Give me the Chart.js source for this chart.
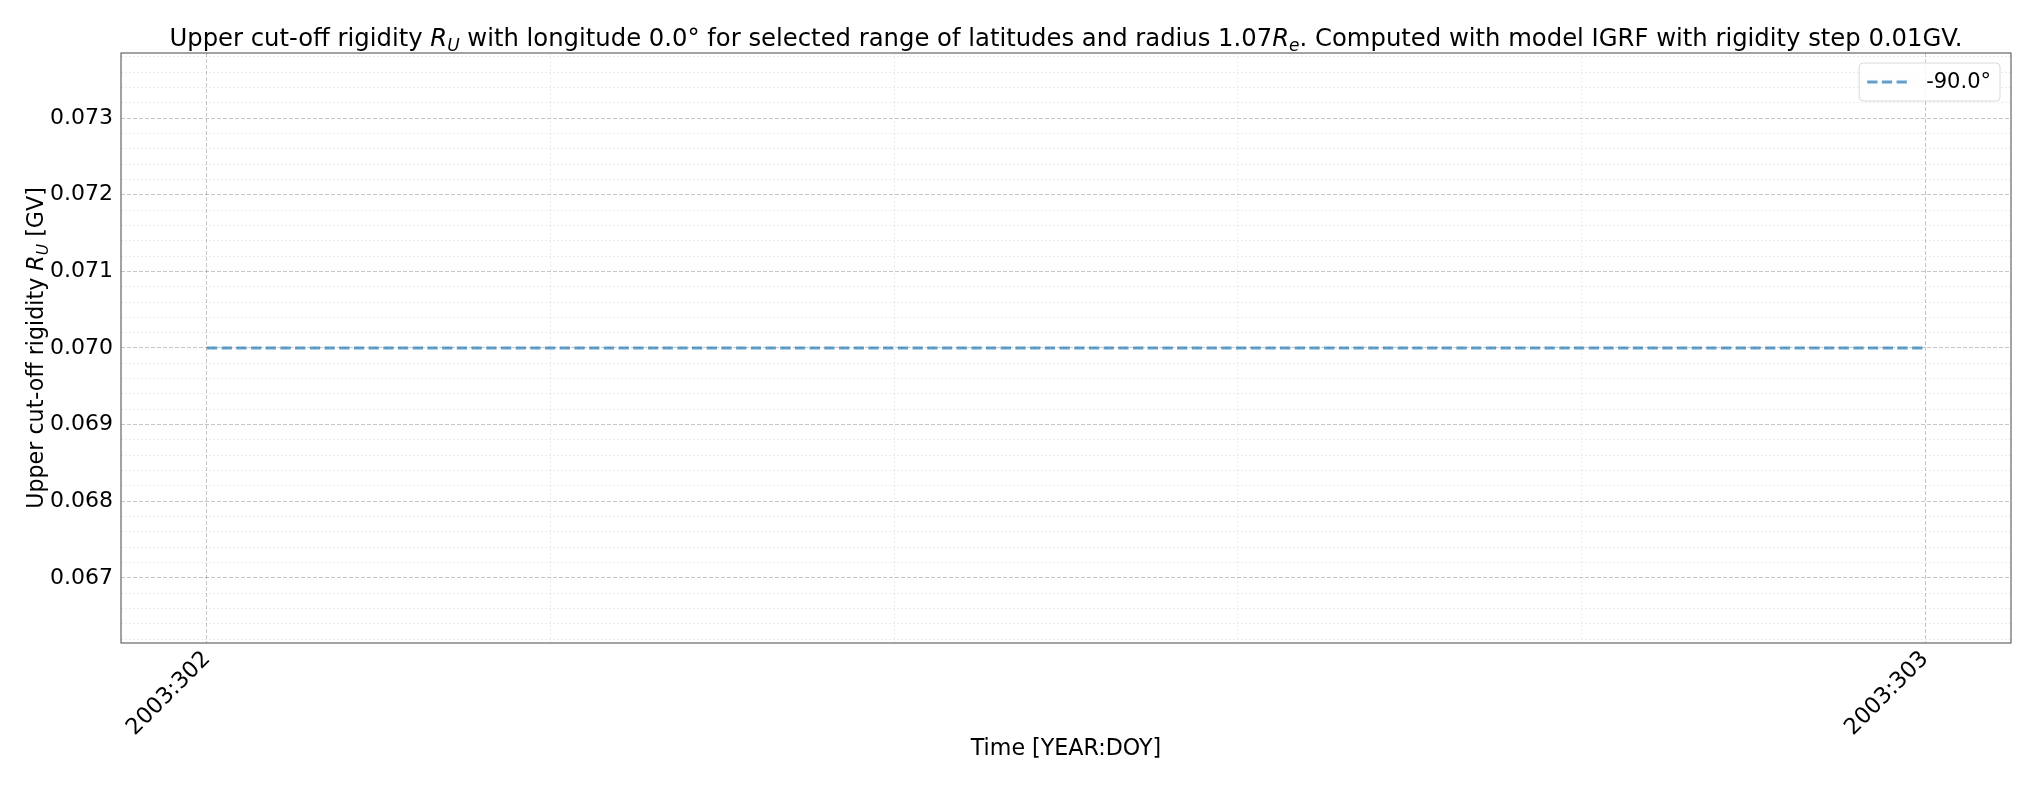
<!DOCTYPE html>
<html>
<head>
<meta charset="utf-8">
<script src="https://cdn.jsdelivr.net/npm/chart.js@4.4.0/dist/chart.umd.min.js"></script>
<style>
  html, body { margin: 0; padding: 0; background: #fff; }
  #wrap { width: 2035px; height: 785px; position: relative; }
</style>
</head>
<body>
<div id="wrap"><canvas id="myChart"></canvas></div>
<script>
// DATA
const year = 2003;
const days = [302, 303];            // day of year
const rigidity = [0.07, 0.07];      // upper cut-off rigidity [GV]
const seriesLabel = '-90.0°';
const xTickDays = [302, 303];
const xTickLabels = ['2003:302', '2003:303'];
const yTickValues = [0.067, 0.068, 0.069, 0.070, 0.071, 0.072, 0.073];
const yTickLabels = ['0.067', '0.068', '0.069', '0.070', '0.071', '0.072', '0.073'];

const FONT = "'DejaVu Sans', sans-serif";
const lineColor = 'rgba(31,119,180,0.7)';

// rich text pieces: [text, style]  style: '' normal, 'i' italic, 's' italic subscript
const titleParts = [
  ['Upper cut-off rigidity ', ''], ['R', 'i'], ['U', 's'],
  [' with longitude 0.0° for selected range of latitudes and radius 1.07', ''], ['R', 'i'], ['e', 's'],
  ['. Computed with model IGRF with rigidity step 0.01GV.', '']
];
const yLabelParts = [['Upper cut-off rigidity ', ''], ['R', 'i'], ['U', 's'], [' [GV]', '']];

function partFont(style, size) {
  if (style === 'i') return 'italic ' + size + 'px ' + FONT;
  if (style === 's') return 'italic ' + (size * 0.7) + 'px ' + FONT;
  return size + 'px ' + FONT;
}
function richWidth(ctx, parts, size) {
  let w = 0;
  parts.forEach(p => { ctx.font = partFont(p[1], size); w += ctx.measureText(p[0]).width; });
  return w;
}
function drawRich(ctx, parts, cx, baseY, size) {
  const w = richWidth(ctx, parts, size);
  let x = cx - w / 2;
  ctx.textAlign = 'left';
  ctx.textBaseline = 'alphabetic';
  ctx.fillStyle = '#000';
  parts.forEach(p => {
    ctx.font = partFont(p[1], size);
    const dy = p[1] === 's' ? size * 0.22 : 0;
    ctx.fillText(p[0], x, baseY + dy);
    x += ctx.measureText(p[0]).width;
  });
}

const isWhole = (v, unit) => Math.abs(v / unit - Math.round(v / unit)) < 1e-6;

const decorations = {
  id: 'decorations',
  afterDraw(chart) {
    const ctx = chart.ctx;
    const a = chart.chartArea;
    ctx.save();
    // frame
    ctx.strokeStyle = '#666';
    ctx.lineWidth = 1.2;
    ctx.strokeRect(a.left, a.top, a.right - a.left, a.bottom - a.top);
    // title
    drawRich(ctx, titleParts, (a.left + a.right) / 2, 46, 24.3);
    // y label
    ctx.save();
    ctx.translate(43, (a.top + a.bottom) / 2);
    ctx.rotate(-Math.PI / 2);
    drawRich(ctx, yLabelParts, 0, 0, 22.2);
    ctx.restore();
    // legend
    const ds = chart.data.datasets[0];
    ctx.font = '21px ' + FONT;
    const tw = ctx.measureText(ds.label).width;
    const bw = 8 + 40 + 19 + tw + 9, bh = 38;
    const bx = a.right - 11 - bw, by = a.top + 10;
    ctx.fillStyle = 'rgba(255,255,255,0.8)';
    ctx.strokeStyle = '#d9d9d9';
    ctx.lineWidth = 1;
    ctx.beginPath();
    ctx.roundRect(bx, by, bw, bh, 4);
    ctx.fill();
    ctx.stroke();
    ctx.strokeStyle = ds.borderColor;
    ctx.lineWidth = ds.borderWidth;
    ctx.setLineDash(ds.borderDash);
    ctx.beginPath();
    ctx.moveTo(bx + 8, by + bh / 2);
    ctx.lineTo(bx + 48, by + bh / 2);
    ctx.stroke();
    ctx.setLineDash([]);
    ctx.fillStyle = '#000';
    ctx.textAlign = 'left';
    ctx.textBaseline = 'middle';
    ctx.fillText(ds.label, bx + 67, by + bh / 2 + 1);
    ctx.restore();
  }
};

const ctx = document.getElementById('myChart');

new Chart(ctx, {
  type: 'line',
  data: {
    datasets: [{
      label: seriesLabel,
      data: days.map((d, i) => ({ x: d, y: rigidity[i] })),
      borderColor: lineColor,
      borderWidth: 2.9,
      borderDash: [10.3, 4.4],
      pointRadius: 0,
      fill: false,
      tension: 0
    }]
  },
  options: {
    responsive: true,
    maintainAspectRatio: false,
    animation: false,
    layout: { padding: { left: 0, top: 53, right: 24, bottom: 0 } },
    plugins: {
      legend: { display: false },
      title: { display: false },
      tooltip: { enabled: false }
    },
    scales: {
      x: {
        type: 'linear',
        min: 301.95,
        max: 303.05,
        afterFit: s => { s.height = 142; },
        border: {
          display: false,
          dash: c => isWhole(c.tick.value, 1) ? [4, 2] : [2, 2]
        },
        grid: {
          drawTicks: false,
          color: c => isWhole(c.tick.value, 1) ? 'rgba(0,0,0,0.22)' : 'rgba(0,0,0,0.08)',
          lineWidth: 1
        },
        ticks: {
          stepSize: 0.2,
          maxTicksLimit: 11,
          includeBounds: false,
          autoSkip: false,
          minRotation: 45,
          maxRotation: 45,
          padding: 3,
          color: '#000',
          font: { family: FONT, size: 22.5 },
          callback: v => {
            const i = xTickDays.findIndex(d => Math.abs(d - v) < 1e-6);
            return i >= 0 ? xTickLabels[i] : '';
          }
        },
        title: {
          display: true,
          text: 'Time [YEAR:DOY]',
          color: '#000',
          font: { family: FONT, size: 22.2 },
          padding: { top: 0, bottom: 22 }
        }
      },
      y: {
        type: 'linear',
        min: 0.06615,
        max: 0.07385,
        afterFit: s => { s.width = 121; },
        border: {
          display: false,
          dash: c => isWhole(c.tick.value, 0.001) ? [4, 2] : [2, 2]
        },
        grid: {
          drawTicks: false,
          color: c => isWhole(c.tick.value, 0.001) ? 'rgba(0,0,0,0.22)' : 'rgba(0,0,0,0.08)',
          lineWidth: 1
        },
        ticks: {
          stepSize: 0.0002,
          maxTicksLimit: 50,
          includeBounds: false,
          autoSkip: false,
          padding: 8,
          color: '#000',
          font: { family: FONT, size: 22 },
          callback: v => {
            const i = yTickValues.findIndex(t => Math.abs(t - v) < 1e-9);
            return i >= 0 ? yTickLabels[i] : '';
          }
        }
      }
    }
  },
  plugins: [decorations]
});
</script>
</body>
</html>
